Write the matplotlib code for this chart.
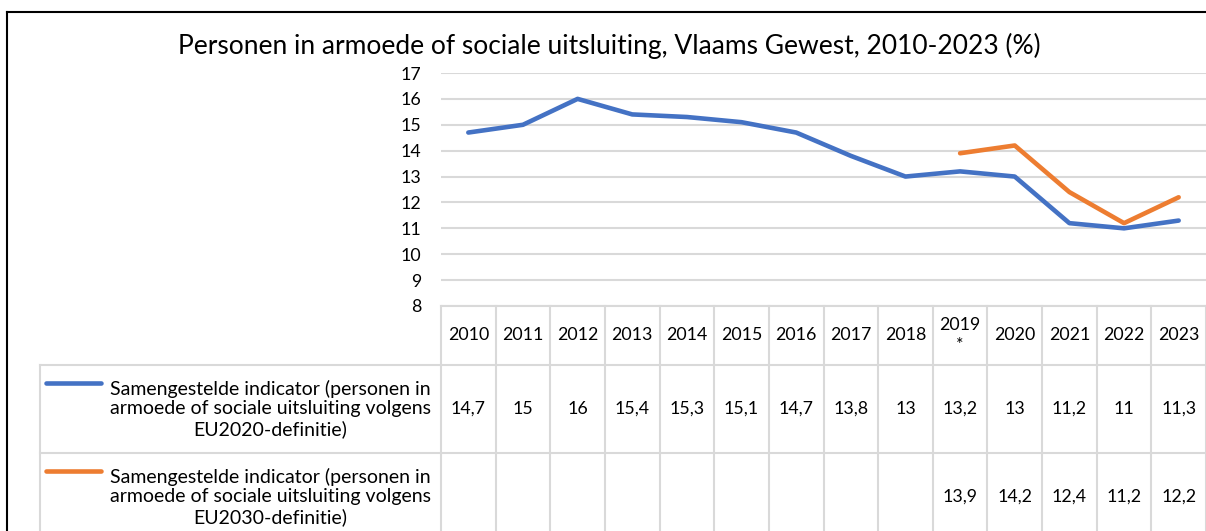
import matplotlib
matplotlib.use("Agg")
import matplotlib.pyplot as plt
from matplotlib.lines import Line2D
import numpy as np

plt.rcParams["font.family"] = ["Lato", "DejaVu Sans"]

# Data
years = [2010, 2011, 2012, 2013, 2014, 2015, 2016, 2017, 2018, 2019, 2020, 2021, 2022, 2023]
year_labels = ["2010", "2011", "2012", "2013", "2014", "2015", "2016", "2017", "2018",
               "2019\n*", "2020", "2021", "2022", "2023"]
eu2020 = [14.7, 15, 16, 15.4, 15.3, 15.1, 14.7, 13.8, 13, 13.2, 13, 11.2, 11, 11.3]
eu2030 = [None] * 9 + [13.9, 14.2, 12.4, 11.2, 12.2]
series_names = [
    "Samengestelde indicator (personen in\narmoede of sociale uitsluiting volgens\nEU2020-definitie)",
    "Samengestelde indicator (personen in\narmoede of sociale uitsluiting volgens\nEU2030-definitie)",
]
colors = ["#4472C4", "#ED7D31"]
title = "Personen in armoede of sociale uitsluiting, Vlaams Gewest, 2010-2023 (%)"

W, H = 1206, 531
GRID = "#d9d9d9"
FS = 12.8

fig = plt.figure(figsize=(W / 100, H / 100), dpi=100)

# Outer frame (top and left visible)
fig.add_artist(Line2D([7 / W, 7 / W], [0, 1 - 12 / H], color="black", lw=1.5))
fig.add_artist(Line2D([7 / W, 1], [1 - 12 / H, 1 - 12 / H], color="black", lw=1.5))

fig.text(609 / W, 1 - 46 / H, title, ha="center", va="center", fontsize=19)

# Chart area
ax_left, ax_right, ax_top, ax_bot = 441, 1206, 73, 306
ax = fig.add_axes([ax_left / W, 1 - ax_bot / H, (ax_right - ax_left) / W, (ax_bot - ax_top) / H])
x = np.arange(len(years))
y1 = np.array(eu2020, dtype=float)
y2 = np.array([np.nan if v is None else v for v in eu2030], dtype=float)
ax.plot(x, y1, color=colors[0], lw=3.3, solid_capstyle="round", solid_joinstyle="round", zorder=3)
ax.plot(x, y2, color=colors[1], lw=3.3, solid_capstyle="round", solid_joinstyle="round", zorder=3)
ax.set_xlim(-0.5, len(years) - 0.5)
ax.set_ylim(8, 17)
ax.set_yticks(range(8, 18))
ax.set_xticks([])
ax.tick_params(axis="y", length=0, pad=14, labelsize=FS)
for s in ax.spines.values():
    s.set_visible(False)
ax.grid(True, axis="y", color=GRID, lw=1.5)
ax.set_axisbelow(True)

# Data table below chart (y in pixels from the table top)
tab_h = H - ax_bot
tax = fig.add_axes([ax_left / W, 0, (ax_right - ax_left) / W, tab_h / H])
tax.axis("off")
tax.set_autoscale_on(False)
ppc = (ax_right - ax_left) / len(years)
leg_left = -0.5 - (ax_left - 40) / ppc
row_edges = [0, 59, 147, 235]
n = len(years)

tax.plot([-0.5, n - 0.5], [0, 0], color=GRID, lw=1.5, clip_on=False)
for r in row_edges[1:3]:
    tax.plot([leg_left, n - 0.5], [r, r], color=GRID, lw=1.5, clip_on=False)
for k in range(n + 1):
    tax.plot([k - 0.5, k - 0.5], [0, tab_h], color=GRID, lw=1.5, clip_on=False)
tax.plot([leg_left, leg_left], [59, tab_h], color=GRID, lw=1.5, clip_on=False)

for i, lab in enumerate(year_labels):
    tax.text(i, 29, lab, ha="center", va="center", fontsize=FS, linespacing=1.35)

for j, (vals, name) in enumerate(zip([eu2020, eu2030], series_names)):
    mid = (row_edges[j + 1] + row_edges[j + 2]) / 2
    for i, v in enumerate(vals):
        if v is not None:
            tax.text(i, mid, f"{v:g}".replace(".", ","), ha="center", va="center", fontsize=FS)
    lx0 = -0.5 - (ax_left - 46) / ppc
    lx1 = -0.5 - (ax_left - 101) / ppc
    tax.plot([lx0, lx1], [mid - 26, mid - 26], color=colors[j], lw=3.3,
             solid_capstyle="round", clip_on=False)
    tx = -0.5 - (ax_left - 270) / ppc
    tax.text(tx, mid, name, ha="center", va="center", fontsize=14, linespacing=1.2)

tax.set_xlim(-0.5, len(years) - 0.5)
tax.set_ylim(tab_h, 0)

fig.savefig("out.png", dpi=100)
